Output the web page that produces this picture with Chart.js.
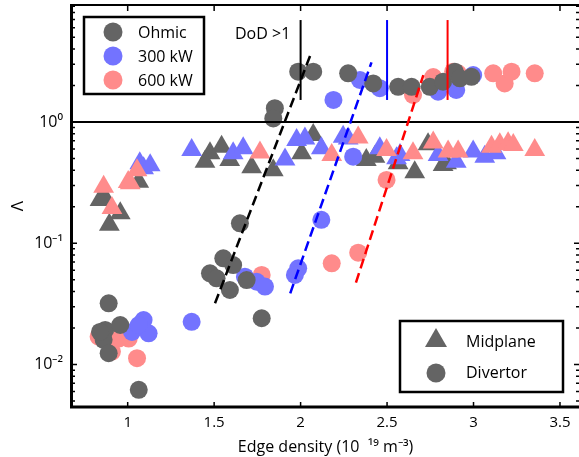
<!DOCTYPE html>
<html>
<head>
<meta charset="utf-8">
<script src="https://cdn.jsdelivr.net/npm/chart.js@4.4.0/dist/chart.umd.min.js"></script>
<style>
  html, body { margin: 0; padding: 0; background: #fff; }
  #wrap { width: 579px; height: 457px; }
</style>
</head>
<body>
<div id="wrap"><canvas id="chart" width="579" height="457"></canvas></div>
<script>
// power levels and probe locations
const powerNames = ['Ohmic', '300 kW', '600 kW'];
const shapeNames = ['Midplane', 'Divertor'];

// axis ticks
const xTicks = [1, 1.5, 2, 2.5, 3, 3.5];
const yTicks = [0.01, 0.1, 1];
const yTickLabels = ['10\u207B\u00B2', '10\u207B\u00B9', '10\u2070'];

// divertor (circles)
const ohmicDivX = [0.89, 0.87, 0.957, 0.861, 0.89, 1.064, 0.84, 1.649, 1.553, 1.61, 1.476, 1.514, 1.591, 1.688, 1.775, 1.851, 1.842, 1.986, 2.073, 2.275, 2.42, 2.564, 2.642, 2.747, 2.824, 2.892, 2.921, 2.988];
const ohmicDivY = [0.032, 0.0193, 0.0212, 0.016, 0.0124, 0.0062, 0.0186, 0.146, 0.0752, 0.0662, 0.0566, 0.0514, 0.0412, 0.0498, 0.0241, 1.30, 1.07, 2.6, 2.6, 2.52, 2.08, 1.95, 1.95, 1.95, 2.15, 2.6, 2.29, 2.36];
const kw300DivX = [1.092, 1.121, 1.025, 1.064, 1.37, 1.678, 1.746, 1.794, 1.986, 1.967, 2.12, 2.304, 2.19, 2.343, 2.458, 2.795, 2.9, 2.998];
const kw300DivY = [0.0233, 0.0181, 0.0186, 0.0212, 0.0225, 0.0531, 0.0482, 0.044, 0.0622, 0.0548, 0.156, 0.518, 1.52, 2.22, 1.9, 1.78, 1.84, 2.44];
const kw600DivX = [1.054, 1.006, 0.948, 0.909, 0.832, 1.775, 2.18, 2.333, 2.497, 2.65, 2.767, 2.882, 2.91, 3.114, 3.18, 3.22, 3.354];
const kw600DivY = [0.0113, 0.0164, 0.0164, 0.0128, 0.017, 0.0548, 0.0684, 0.0837, 0.333, 1.67, 2.35, 2.6, 2.52, 2.52, 2.08, 2.6, 2.52];

// midplane (triangles)
const ohmicMidX = [0.894, 0.957, 0.87, 1.064, 0.84, 1.476, 1.543, 1.447, 1.59, 1.717, 1.842, 2.006, 2.073, 2.38, 2.43, 2.564, 2.66, 2.737, 2.824, 2.844];
const ohmicMidY = [0.142, 0.177, 0.235, 0.322, 0.228, 0.552, 0.626, 0.471, 0.486, 0.423, 0.40, 0.552, 0.78, 0.486, 0.518, 0.457, 0.385, 0.656, 0.443, 0.457];
const kw300MidX = [1.092, 1.07, 1.13, 1.37, 1.61, 1.668, 1.91, 1.977, 2.025, 2.12, 2.246, 2.275, 2.458, 2.555, 2.575, 2.795, 2.9, 2.998, 3.065, 3.13];
const kw300MidY = [0.415, 0.457, 0.44, 0.588, 0.552, 0.607, 0.49, 0.71, 0.73, 0.607, 0.757, 0.73, 0.607, 0.502, 0.535, 0.535, 0.47, 0.57, 0.518, 0.552];
const kw600MidX = [0.861, 0.909, 1.015, 1.054, 1.003, 1.765, 2.18, 2.333, 2.497, 2.65, 2.767, 2.853, 2.911, 3.104, 3.152, 3.2, 3.23, 3.354];
const kw600MidY = [0.293, 0.195, 0.312, 0.40, 0.32, 0.56, 0.535, 0.745, 0.588, 0.552, 0.677, 0.57, 0.57, 0.626, 0.656, 0.667, 0.646, 0.588];

// dashed fit lines (end points)
const ohmicFitX = [1.505, 2.059];
const ohmicFitY = [0.032, 3.64];
const kw300FitX = [1.94, 2.41];
const kw300FitY = [0.0387, 3.1];
const kw600FitX = [2.32, 2.71];
const kw600FitY = [0.0473, 2.44];

// DoD > 1 markers
const dodX = [2.0, 2.5, 2.85];
const dodY = [1.52, 6.93];
const unityY = 1;

const X_MIN = 0.678, X_MAX = 3.61;
const Y_MIN = 0.00447, Y_MAX = 9.22;

const GRAY = '#646464', BLUE = '#7373ff', PINK = '#ff8b8b';
const FONT = "'Open Sans', sans-serif";

const pts = (xs, ys) => xs.map((x, i) => ({ x: x, y: ys[i] }));

function markers(xs, ys, color, style, r) {
  return {
    data: pts(xs, ys),
    pointStyle: style,
    pointRadius: r,
    pointHoverRadius: r,
    pointBackgroundColor: color,
    pointBorderColor: color,
    pointBorderWidth: 0,
    showLine: false
  };
}

function line(xs, ys, color, dash, w) {
  return {
    data: pts(xs, ys),
    showLine: true,
    borderColor: color,
    borderWidth: w,
    borderDash: dash,
    pointRadius: 0,
    fill: false
  };
}

// first in list is drawn on top
const datasets = [
  line(ohmicFitX, ohmicFitY, '#000', [10, 5], 2.5),
  line(kw300FitX, kw300FitY, '#0000ff', [10, 5], 2.5),
  line(kw600FitX, kw600FitY, '#ff0000', [10, 5], 2.5),
  line([dodX[0], dodX[0]], dodY, '#000', [], 2),
  line([dodX[1], dodX[1]], dodY, '#0000ff', [], 2),
  line([dodX[2], dodX[2]], dodY, '#ff0000', [], 2),
  line([X_MIN, X_MAX], [unityY, unityY], '#000', [], 2),
  markers(ohmicDivX, ohmicDivY, GRAY, 'circle', 9),
  markers(kw300DivX, kw300DivY, BLUE, 'circle', 9),
  markers(kw600DivX, kw600DivY, PINK, 'circle', 9),
  markers(kw600MidX, kw600MidY, PINK, 'triangle', 12),
  markers(kw300MidX, kw300MidY, BLUE, 'triangle', 12),
  markers(ohmicMidX, ohmicMidY, GRAY, 'triangle', 12)
];

// axes box, inward ticks, legends, annotation
const decorations = {
  id: 'decorations',
  afterDraw(chart) {
    const ctx = chart.ctx;
    const a = chart.chartArea;
    const xs = chart.scales.x, ys = chart.scales.y;
    ctx.save();
    ctx.strokeStyle = '#000';

    // minor/major ticks on y
    ctx.lineWidth = 1.5;
    for (let e = -3; e <= 0; e++) {
      for (let m = 1; m <= 9; m++) {
        const v = m * Math.pow(10, e);
        if (v < Y_MIN || v > Y_MAX) continue;
        const py = ys.getPixelForValue(v);
        const len = m === 1 ? 5 : 3;
        ctx.beginPath();
        ctx.moveTo(a.left, py); ctx.lineTo(a.left + len, py);
        ctx.moveTo(a.right, py); ctx.lineTo(a.right - len, py);
        ctx.stroke();
      }
    }
    // ticks on x
    xTicks.forEach(v => {
      const px = xs.getPixelForValue(v);
      ctx.beginPath();
      ctx.moveTo(px, a.bottom); ctx.lineTo(px, a.bottom - 5);
      ctx.moveTo(px, a.top); ctx.lineTo(px, a.top + 6);
      ctx.stroke();
    });

    // box
    ctx.lineWidth = 2;
    ctx.beginPath();
    ctx.moveTo(a.left, a.top); ctx.lineTo(a.right, a.top);
    ctx.stroke();
    ctx.lineWidth = 3;
    ctx.beginPath();
    ctx.moveTo(a.left - 0.5, a.top - 1); ctx.lineTo(a.left - 0.5, a.bottom);
    ctx.lineTo(a.right, a.bottom);
    ctx.stroke();

    // DoD label
    ctx.fillStyle = '#000';
    ctx.font = '16px ' + FONT;
    ctx.textBaseline = 'middle';
    ctx.textAlign = 'left';
    ctx.fillText('DoD >1', 235, 34);

    // legend: power
    ctx.fillStyle = '#fff';
    ctx.fillRect(84, 17, 120, 77);
    ctx.lineWidth = 2.5;
    ctx.strokeRect(84, 17, 120, 77);
    const colors = [GRAY, BLUE, PINK];
    powerNames.forEach((name, i) => {
      const cy = 32 + i * 24;
      ctx.fillStyle = colors[i];
      ctx.beginPath();
      ctx.arc(113, cy, 9.5, 0, Math.PI * 2);
      ctx.fill();
      ctx.fillStyle = '#000';
      ctx.fillText(name, 138, cy + 1);
    });

    // legend: location
    ctx.fillStyle = '#fff';
    ctx.fillRect(400, 321, 163, 71);
    ctx.strokeRect(400, 321, 163, 71);
    ctx.fillStyle = GRAY;
    ctx.beginPath();
    ctx.moveTo(436, 328); ctx.lineTo(447, 347); ctx.lineTo(425, 347);
    ctx.closePath(); ctx.fill();
    ctx.beginPath();
    ctx.arc(436, 373, 9.5, 0, Math.PI * 2);
    ctx.fill();
    ctx.fillStyle = '#000';
    ctx.fillText(shapeNames[0], 466, 342);
    ctx.fillText(shapeNames[1], 466, 373);
    ctx.restore();
  }
};

new Chart(document.getElementById('chart'), {
  type: 'scatter',
  data: { datasets: datasets },
  options: {
    responsive: false,
    animation: false,
    layout: { autoPadding: false, padding: { top: 5, right: 0, left: 0, bottom: 0 } },
    plugins: { legend: { display: false }, tooltip: { enabled: false } },
    scales: {
      x: {
        type: 'linear',
        min: X_MIN, max: X_MAX,
        afterBuildTicks: s => { s.ticks = xTicks.map(v => ({ value: v })); },
        afterFit: s => { s.height = 50; s.paddingLeft = 0; s.paddingRight = 0; },
        grid: { display: false, drawTicks: false },
        border: { display: false },
        ticks: { color: '#000', font: { family: FONT, size: 15 }, padding: 7, maxRotation: 0, callback: v => String(v) },
        title: { display: true, text: 'Edge density (10  \u00B9\u2079 m\u207B\u00B3)', color: '#000', font: { family: FONT, size: 16 }, padding: { top: 0, bottom: 0 } }
      },
      y: {
        type: 'logarithmic',
        min: Y_MIN, max: Y_MAX,
        afterBuildTicks: s => { s.ticks = yTicks.map(v => ({ value: v })); },
        afterFit: s => { s.width = 72; s.paddingTop = 0; s.paddingBottom = 0; },
        grid: { display: false, drawTicks: false },
        border: { display: false },
        ticks: { color: '#000', font: { family: FONT, size: 16 }, padding: 9, callback: v => yTickLabels[yTicks.indexOf(v)] },
        title: { display: true, text: '\u039B', color: '#000', font: { family: FONT, size: 17 }, padding: { top: 8, bottom: 0 } }
      }
    }
  },
  plugins: [decorations]
});
</script>
</body>
</html>
